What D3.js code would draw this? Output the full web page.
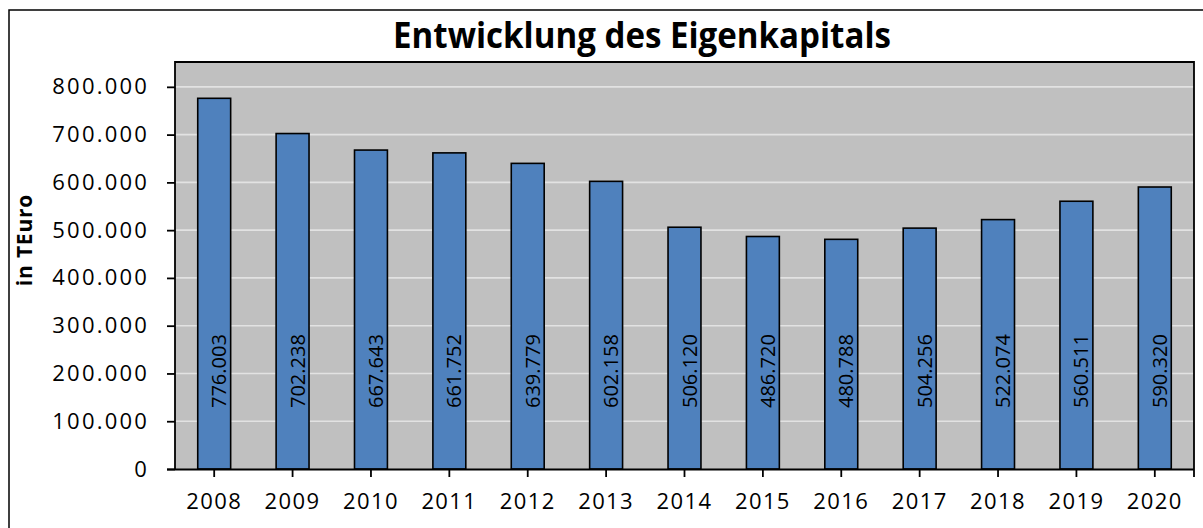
<!DOCTYPE html>
<html>
<head>
<meta charset="utf-8">
<script src="https://cdn.jsdelivr.net/npm/d3@7/dist/d3.min.js"></script>
<style>
  html, body { margin: 0; padding: 0; background: #ffffff; }
  svg { display: block; }
</style>
</head>
<body>
<svg id="chart" width="1203" height="528"></svg>
<script>
// ---- data ----
const years = ["2008","2009","2010","2011","2012","2013","2014","2015","2016","2017","2018","2019","2020"];
const values = [776003, 702238, 667643, 661752, 639779, 602158, 506120, 486720, 480788, 504256, 522074, 560511, 590320];
const yTicks = [0, 100000, 200000, 300000, 400000, 500000, 600000, 700000, 800000];
const titleText = "Entwicklung des Eigenkapitals";
const yAxisTitle = "in TEuro";

// ---- layout ----
const W = 1203, H = 528;
const plot = { left: 175, right: 1194, top: 62, bottom: 469 };
const yMax = 852000;
const fontFamily = "'Open Sans', 'DejaVu Sans', sans-serif";

const de = d3.formatLocale({ decimal: ",", thousands: ".", grouping: [3], currency: ["", " €"] });
const fmt = de.format(",d");

const svg = d3.select("#chart");

// outer chart border
svg.append("rect")
  .attr("x", 9).attr("y", 10)
  .attr("width", W + 20).attr("height", H + 20)
  .attr("fill", "#ffffff").attr("stroke", "#000").attr("stroke-width", 1.5);

const x = d3.scaleBand().domain(years)
  .range([plot.left, plot.right])
  .paddingInner(0.58).paddingOuter(0.29);
const y = d3.scaleLinear().domain([0, yMax]).range([plot.bottom, plot.top]);

// plot background
svg.append("rect")
  .attr("x", plot.left).attr("y", plot.top)
  .attr("width", plot.right - plot.left).attr("height", plot.bottom - plot.top)
  .attr("fill", "#c0c0c0");

// gridlines
svg.append("g").selectAll("line")
  .data(yTicks.filter(d => d > 0))
  .join("line")
  .attr("x1", plot.left).attr("x2", plot.right)
  .attr("y1", d => y(d)).attr("y2", d => y(d))
  .attr("stroke", "#e2e2e2").attr("stroke-width", 1.6);

// plot border (top, left, right)
svg.append("path")
  .attr("d", `M${plot.left},${plot.bottom} V${plot.top} H${plot.right} V${plot.bottom + 8}`)
  .attr("fill", "none").attr("stroke", "#000").attr("stroke-width", 1.8);

// bars
svg.append("g").selectAll("rect")
  .data(values)
  .join("rect")
  .attr("x", (d, i) => x(years[i]))
  .attr("y", d => y(d))
  .attr("width", x.bandwidth())
  .attr("height", d => y(0) - y(d))
  .attr("fill", "#4f81bd")
  .attr("stroke", "#000").attr("stroke-width", 1.6);

// value labels (rotated)
const labelCenter = y(205000);
svg.append("g").selectAll("text")
  .data(values)
  .join("text")
  .attr("transform", (d, i) => `translate(${x(years[i]) + x.bandwidth() / 2 + 12},${labelCenter}) rotate(-90)`)
  .attr("text-anchor", "middle")
  .attr("font-family", fontFamily)
  .attr("font-size", 20)
  .attr("fill", "#000")
  .text(d => fmt(d));

// y axis
const yAxis = d3.axisLeft(y).tickValues(yTicks).tickFormat(fmt).tickSize(8).tickPadding(18);
const gy = svg.append("g").attr("transform", `translate(${plot.left},0)`).call(yAxis);
gy.select(".domain").remove();
gy.selectAll(".tick line").attr("stroke", "#000").attr("stroke-width", 1.8);
gy.selectAll(".tick text")
  .attr("font-family", fontFamily).attr("font-size", 22)
  .attr("letter-spacing", "2.2px")
  .attr("fill", "#000");

// x axis
const xAxis = d3.axisBottom(x).tickSize(8).tickPadding(16).tickSizeOuter(0);
const gx = svg.append("g").attr("transform", `translate(0,${plot.bottom})`).call(xAxis);
gx.select(".domain").attr("d", `M${plot.left - 8},0.5H${plot.right}`).attr("stroke", "#000").attr("stroke-width", 2);
gx.selectAll(".tick line").attr("stroke", "#000").attr("stroke-width", 1.8);
gx.selectAll(".tick text")
  .attr("font-family", fontFamily).attr("font-size", 22)
  .attr("letter-spacing", "1.4px")
  .attr("fill", "#000");

// title
svg.append("text")
  .attr("x", 642).attr("y", 48)
  .attr("text-anchor", "middle")
  .attr("font-family", fontFamily)
  .attr("font-weight", "bold")
  .attr("font-size", 35)
  .attr("textLength", 498)
  .attr("lengthAdjust", "spacingAndGlyphs")
  .attr("fill", "#000")
  .text(titleText);

// y axis title
svg.append("text")
  .attr("transform", `translate(32,240) rotate(-90)`)
  .attr("text-anchor", "middle")
  .attr("font-family", fontFamily)
  .attr("font-weight", "bold")
  .attr("font-size", 21)
  .attr("letter-spacing", "0.8px")
  .attr("fill", "#000")
  .text(yAxisTitle);
</script>
</body>
</html>
